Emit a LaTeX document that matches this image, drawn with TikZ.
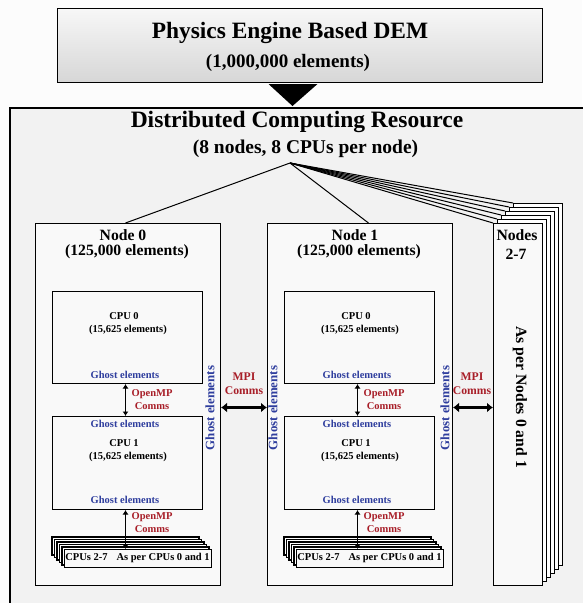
\documentclass[tikz,border=0pt]{standalone}
\usepackage{fontspec}
\setmainfont{Liberation Serif}
\usetikzlibrary{arrows.meta,calc}
\definecolor{ghostblue}{RGB}{47,62,158}
\definecolor{commred}{RGB}{168,30,40}
\definecolor{panel}{RGB}{242,242,242}
\definecolor{boxfill}{RGB}{249,249,249}
\newcommand{\bsz}[1]{\fontsize{#1}{#1}\selectfont\bfseries}

\begin{document}
\begin{tikzpicture}[x=1pt,y=-1pt,
  frame/.style={draw, line width=1pt, fill=boxfill, anchor=north west, inner sep=0pt},
  lbl/.style={anchor=base, inner sep=0pt},
  small/.style={lbl, font=\bsz{10.5}},
  ghost/.style={small, text=ghostblue},
  sideghost/.style={inner sep=0pt, rotate=90, text=ghostblue, font=\bsz{12.9}},
  comm/.style={small, text=commred},
  mpilbl/.style={lbl, text=commred, font=\bsz{11.7}},
  omp/.style={line width=1.7pt, {Latex[length=4.5pt,width=6pt]}-{Latex[length=4.5pt,width=6pt]}},
  mpi/.style={line width=3.6pt, {Latex[length=6pt,width=10pt]}-{Latex[length=6pt,width=10pt]}},
  fanline/.style={line width=1pt}
]
\useasboundingbox (0,0) rectangle (582,603);
\fill[white!99!black] (0,0) rectangle (582,603);

% lower panel: the distributed computing resource
\node[fill=panel, anchor=north west, inner sep=0pt, minimum width=600, minimum height=520] (dcr) at (10,108) {};
\draw[line width=1.1pt] (dcr.south west) -- (dcr.north west) -- (dcr.north east);

% top box: the DEM model
\node[frame, top color=white!97!black, bottom color=black!16, minimum width=485, minimum height=74] (dem) at (57,8) {};
\node[lbl, font=\bsz{23.4}] (demtitle) at (290,38) {Physics Engine Based DEM};
\node[lbl, font=\bsz{19}] (demsub) at (288,67) {(1,000,000 elements)};

% downward arrowhead from the model to the resource
\fill ($(dem.south)+(-31.5,1)$) -- ($(dem.south)+(17.5,1)$) -- ($(dem.south |- dcr.north)+(-7.5,-2)$) -- cycle;

\node[lbl, font=\bsz{23.5}] (dcrtitle) at (297,127) {Distributed Computing Resource};
\node[lbl, font=\bsz{19.5}] (dcrsub) at (305.5,153) {(8 nodes, 8 CPUs per node)};
\coordinate (fan) at (290,163);

% compute nodes 0 and 1
\node[frame, minimum width=185, minimum height=362] (node0) at (35,223) {};
\node[frame, minimum width=185, minimum height=362] (node1) at (267,223) {};

% stacked sheets for nodes 2-7
\foreach \k in {5,4,3,2,1}{
  \node[frame, fill=white, minimum width=49, minimum height=362] (sheet\k) at (493+4*\k,223-4*\k) {};
}
\node[frame, fill=boxfill, minimum width=49, minimum height=362] (sheet0) at (493,223) {};

% fan of connectors from the resource title
\draw[fanline] (fan) -- ([xshift=-2.5pt]node0.north);
\draw[fanline] (fan) -- ([xshift=8.5pt]node1.north);
\foreach \k in {0,1,2,3,4,5}{
  \draw[fanline] (fan) -- (sheet\k.north west);
}

\node[lbl, font=\bsz{15.7}] (nodesA) at (517,240) {Nodes};
\node[lbl, font=\bsz{15.7}] (nodesB) at (516,259) {2-7};
\node[inner sep=0pt, rotate=-90, font=\bsz{15.7}] (asper) at (520,397) {As per Nodes 0 and 1};

% contents of nodes 0 and 1
\foreach \n/\dx in {0/0,1/232}{
  \node[lbl, font=\bsz{15.7}] (ntitle\n) at (123+\dx,240) {Node \n};
  \node[lbl, font=\bsz{15.7}] (nsub\n) at (127+\dx,255) {(125,000 elements)};

  \node[frame, minimum width=150, minimum height=92] (cpuA\n) at (52+\dx,291) {};
  \node[small] (cpuAt\n) at (124+\dx,319) {CPU 0};
  \node[small] (cpuAs\n) at (128+\dx,332) {(15,625 elements)};
  \node[ghost] (cpuAg\n) at (125+\dx,378) {Ghost elements};

  \node[frame, minimum width=150, minimum height=93] (cpuB\n) at (52+\dx,416) {};
  \node[ghost] (cpuBg\n) at (125+\dx,427) {Ghost elements};
  \node[small] (cpuBt\n) at (124+\dx,446) {CPU 1};
  \node[small] (cpuBs\n) at (128+\dx,459) {(15,625 elements)};
  \node[ghost] (cpuBh\n) at (125+\dx,503) {Ghost elements};

  % stacked boxes for CPUs 2-7
  \foreach \k in {5,4,3,2,1}{
    \node[frame, fill=white, line width=1.6pt, minimum width=147, minimum height=18] at (64-2.6*\k+\dx,549-2.6*\k) {};
  }
  \node[frame, fill=boxfill, minimum width=147, minimum height=18] (cpuS\n) at (64+\dx,549) {};
  \node[small] (cpuSt\n) at (137.5+\dx,560) {CPUs 2-7\hspace{9pt}As per CPUs 0 and 1};

  % shared-memory communication between CPUs
  \draw[omp] ([xshift=-2pt]cpuA\n.south) -- ([xshift=-2pt]cpuB\n.north);
  \node[comm] (ompA\n) at (152+\dx,396) {OpenMP};
  \node[comm] (ompAc\n) at (152+\dx,409) {Comms};
  \draw[omp] ([xshift=-2pt]cpuB\n.south) -- ([xshift=-2pt]cpuS\n.north -| cpuB\n.south);
  \node[comm] (ompB\n) at (152+\dx,519) {OpenMP};
  \node[comm] (ompBc\n) at (152+\dx,532) {Comms};
}

% ghost layers along node boundaries
\node[sideghost] (gh0r) at (210,408) {Ghost elements};
\node[sideghost] (gh1l) at (273,408) {Ghost elements};
\node[sideghost] (gh1r) at (445,408) {Ghost elements};

% message passing between nodes
\draw[mpi] ([yshift=-3pt]node0.east) -- ([yshift=-3pt]node1.west);
\node[mpilbl] (mpiA) at (244,380) {MPI};
\node[mpilbl] (mpiAc) at (244,394) {Comms};
\draw[mpi] ([yshift=-3pt]node1.east) -- ([yshift=-3pt]sheet0.west);
\node[mpilbl] (mpiB) at (472,380) {MPI};
\node[mpilbl] (mpiBc) at (472,394) {Comms};
\end{tikzpicture}
\end{document}
